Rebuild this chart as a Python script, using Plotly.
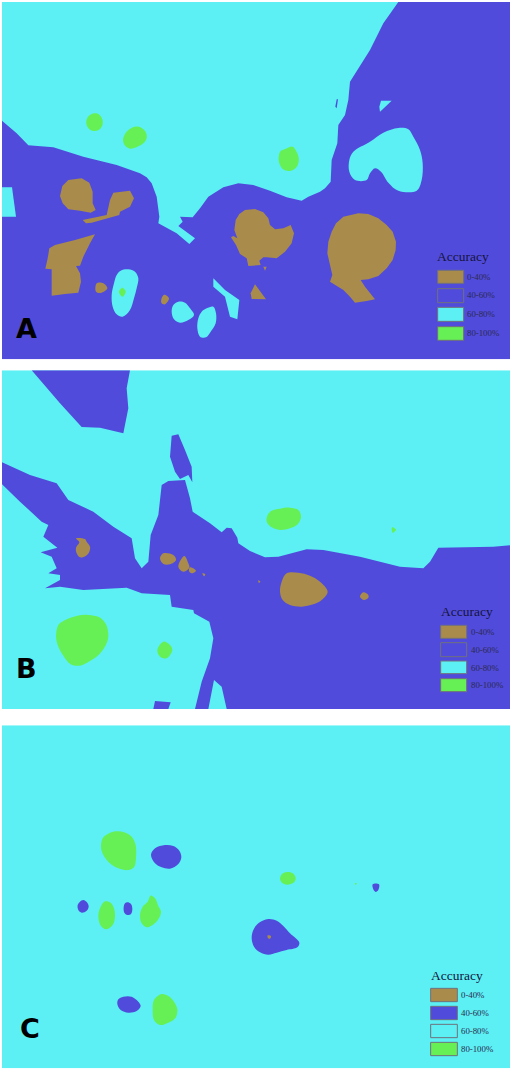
import plotly.graph_objects as go

BROWN = "#a98b4b"
BLUE = "#514bdc"
CYAN = "#5cf0f4"
GREEN = "#66f055"

legend_labels = ["0-40%", "40-60%", "60-80%", "80-100%"]
legend_colors = [BROWN, BLUE, CYAN, GREEN]

# Panel A
a_cyan_sharp = [
    [(6,6),(1195,6),(1150,70),(1110,150),(1050,245),(1045,300),(1035,345),(1015,375),(1012,430),(995,480),
     (992,545),(975,565),(960,575),(925,590),(905,602),(860,592),(810,572),(760,555),(715,550),(670,562),(625,590),
     (600,625),(578,652),(540,650),(548,665),(535,678),(585,715),(568,732),(530,700),(475,670),(478,650),
     (470,590),(455,550),(440,532),(420,520),(350,495),(250,470),(160,442),(85,436),(50,400),(6,362)],
    [(6,562),(36,562),(48,650),(6,650)],
    [(1143,302),(1175,302),(1140,335),(1138,320)],
    [(640,835),(675,870),(718,900),(712,958),(690,950),(675,890),(640,860)],
]
a_cyan_blobs = [
    [(1195,384),(1225,388),(1240,410),(1260,450),(1268,490),(1265,540),(1250,572),(1195,572),(1165,548),
     (1143,515),(1125,505),(1110,520),(1100,540),(1065,540),(1048,515),(1048,480),(1060,455),(1110,425),(1150,398)],
    [(362,812),(385,808),(405,815),(415,835),(410,865),(402,895),(390,930),(368,950),(350,943),(338,920),
     (335,885),(342,850),(350,825)],
    [(535,905),(555,908),(570,925),(582,945),(565,960),(540,968),(522,958),(515,935),(520,915)],
    [(620,925),(640,920),(648,940),(647,970),(632,995),(618,1012),(600,1010),(592,985),(595,955),(605,935)],
]
a_blue_sharp = [[(1010,298),(1014,298),(1010,325),(1006,320)]]
a_brown_sharp = [
    [(340,578),(390,572),(402,595),(390,620),(360,635),(358,645),(275,668),(258,670),(248,660),(320,645),(330,600)],
    [(285,703),(270,730),(250,770),(240,797),(228,798),(240,820),(243,845),(235,878),(195,882),(155,887),(155,840),
     (155,808),(136,806),(143,775),(148,745),(165,735),(225,720)],
    [(765,853),(798,898),(755,897),(752,880)],
    [(735,630),(765,627),(790,637),(805,655),(810,675),(825,688),(850,685),(872,675),(882,700),(875,730),(855,755),
     (830,775),(800,772),(790,772),(778,782),(782,795),(745,798),(740,775),(720,762),(708,735),(693,712),(700,708),
     (712,715),(703,690),(707,660),(718,642)],
    [(1075,640),(1105,642),(1135,655),(1160,675),(1178,695),(1188,725),(1187,750),(1178,780),(1160,805),(1135,828),
     (1105,838),(1082,840),(1095,860),(1125,898),(1100,903),(1065,908),(1050,890),(1030,870),(990,845),(997,825),
     (990,795),(982,760),(985,725),(995,695),(1008,670),(1030,650)],
    [(790,800),(800,800),(795,812)],
    [(205,540),(245,535),(268,548),(278,575),(278,610),(287,630),(272,638),(240,632),(205,628),(188,610),(180,588),(187,558)],
]
a_brown_blobs = [
    [(290,850),(310,850),(322,865),(305,878),(288,875)],
    [(493,884),(507,895),(495,913),(484,908),(486,892)],
]
a_green_blobs = [
    [(283,340),(298,344),(307,358),(308,372),(300,387),(285,393),(270,389),(260,376),(259,362),(266,348)],
    [(405,380),(425,384),(438,398),(440,415),(430,430),(412,440),(392,446),(376,438),(369,420),(375,402),(388,388)],
    [(878,440),(888,452),(895,468),(896,485),(888,503),(868,513),(848,507),(838,490),(836,470),(842,453),(858,446)],
    [(367,863),(377,875),(367,890),(357,875)],
]

# Panel B
b_blue_sharp = [
    [(95,16),(390,16),(380,70),(385,130),(370,205),(300,188),(245,186),(180,115)],
    [(515,212),(535,208),(555,255),(575,305),(577,352),(565,330),(540,342),(525,320),(510,275)],
    [(6,292),(90,330),(170,355),(205,405),(280,440),(340,485),(395,520),(405,580),(425,610),(445,590),(452,510),
     (475,450),(485,360),(505,348),(555,345),(570,400),(578,440),(630,475),(665,502),(680,488),(695,490),(712,518),
     (715,535),(750,558),(795,577),(835,575),(920,553),(970,555),(1080,575),(1200,605),(1270,610),(1290,590),
     (1315,548),(1480,545),(1530,541),(1530,1032),(680,1032),(665,965),(642,945),(625,1032),(585,1032),(605,950),
     (630,880),(640,820),(628,770),(582,745),(580,735),(515,725),(510,690),(425,685),(380,668),(250,675),(180,665),
     (135,670),(180,645),(180,630),(145,625),(170,610),(155,575),(122,562),(172,548),(130,515),(145,480),(125,470),
     (60,410),(6,358)],
    [(465,1008),(512,1012),(505,1032),(460,1032)],
]
b_green_blobs = [
    [(815,437),(840,431),(870,428),(895,435),(903,455),(893,478),(870,490),(840,495),(815,487),(800,470),(803,450)],
    [(1176,487),(1188,494),(1178,503)],
    [(232,752),(265,750),(298,757),(318,778),(325,810),(320,835),(298,868),(270,888),(240,902),(212,898),(190,872),
     (175,845),(168,815),(175,780),(190,768)],
    [(490,830),(510,840),(517,855),(500,880),(480,875),(472,855)],
]
b_brown_blobs = [
    [(228,520),(255,522),(260,530),(270,545),(268,560),(258,572),(240,577),(230,565),(228,548),(238,532)],
    [(490,565),(520,570),(528,585),(510,598),(490,597),(480,580)],
    [(553,573),(565,595),(568,608),(550,620),(535,605)],
    [(570,607),(588,617),(575,625),(567,618)],
    [(607,625),(616,628),(612,634)],
    [(775,646),(781,650),(776,653)],
    [(860,625),(895,623),(930,632),(960,650),(983,680),(965,705),(940,718),(905,725),(870,720),(848,705),(840,680),(845,650)],
    [(1090,682),(1105,690),(1105,698),(1092,705),(1080,695)],
]

# Panel C
c_green_blobs = [
    [(340,335),(372,337),(395,350),(407,375),(408,410),(403,440),(385,450),(355,445),(328,428),(310,405),(303,380),(310,352)],
    [(862,456),(878,460),(887,473),(882,487),(862,494),(848,490),(840,476),(846,462)],
    [(315,544),(332,548),(342,565),(345,590),(338,615),(318,628),(303,618),(295,590),(300,565)],
    [(452,527),(465,535),(475,558),(483,575),(475,598),(458,615),(440,622),(425,610),(420,585),(428,560),(443,545)],
    [(485,822),(505,828),(522,845),(532,868),(527,893),(505,908),(480,915),(462,900),(458,870),(462,840)],
    [(1065,489),(1071,491),(1066,494)],
]
c_blue_blobs = [
    [(495,375),(520,378),(538,392),(544,412),(535,432),(510,446),(485,442),(465,430),(453,405),(465,385)],
    [(1118,493),(1137,493),(1135,510),(1127,516),(1120,508)],
    [(250,540),(262,548),(266,560),(260,572),(245,578),(235,570),(233,555),(240,545)],
    [(382,547),(393,552),(397,567),(393,582),(382,585),(373,578),(371,562),(375,550)],
    [(805,597),(830,602),(850,618),(870,640),(898,668),(892,682),(860,690),(830,698),(805,704),(780,697),(762,680),
     (755,655),(760,630),(775,610)],
    [(370,830),(395,830),(415,845),(422,858),(410,873),(385,878),(362,870),(352,852),(355,838)],
]
c_brown_blobs = [[(803,646),(813,648),(810,656),(804,655)]]

W, H = 512, 1070

panels = [
    dict(name="A", crop_top=0, box=(6, 1530, 6, 1078), bg=BLUE, letter=(78, 985),
         title=(1312, 768), swatch_x=(1313, 1391), swatch_y=[(811, 850), (866, 908), (922, 964), (980, 1021)],
         label_x=1402, label_y=[830, 886, 943, 1000],
         layers=[(CYAN, a_cyan_sharp, False), (CYAN, a_cyan_blobs, True), (BLUE, a_blue_sharp, False),
                 (BROWN, a_brown_sharp, False), (BROWN, a_brown_blobs, True), (GREEN, a_green_blobs, True)]),
    dict(name="B", crop_top=365, box=(6, 1530, 16, 1032), bg=CYAN, letter=(80, 910),
         title=(1322, 738), swatch_x=(1322, 1400), swatch_y=[(781, 820), (833, 875), (888, 926), (941, 980)],
         label_x=1414, label_y=[800, 855, 908, 960],
         layers=[(BLUE, b_blue_sharp, False), (GREEN, b_green_blobs, True), (BROWN, b_brown_blobs, True)]),
    dict(name="C", crop_top=720, box=(6, 1530, 16, 1045), bg=CYAN, letter=(90, 925),
         title=(1292, 765), swatch_x=(1292, 1372), swatch_y=[(805, 845), (859, 899), (913, 953), (967, 1007)],
         label_x=1382, label_y=[824, 878, 932, 986],
         layers=[(GREEN, c_green_blobs, True), (BLUE, c_blue_blobs, True), (BROWN, c_brown_blobs, True)]),
]

fig = go.Figure()
shapes = []
annotations = []

for i, p in enumerate(panels):
    suffix = "" if i == 0 else str(i + 1)
    xref, yref = "x" + suffix, "y" + suffix
    x0, x1, y0, y1 = p["box"]

    # zoom units are 3x, so a panel's pixel box comes straight from its crop
    fig.layout["xaxis" + suffix] = dict(
        domain=[x0 / 3 / W, x1 / 3 / W], range=[x0, x1], visible=False, fixedrange=True)
    fig.layout["yaxis" + suffix] = dict(
        domain=[1 - (p["crop_top"] + y1 / 3) / H, 1 - (p["crop_top"] + y0 / 3) / H],
        range=[y1, y0], visible=False, fixedrange=True)

    shapes.append(dict(type="rect", xref=xref, yref=yref, x0=x0, x1=x1, y0=y0, y1=y1,
                       fillcolor=p["bg"], line_width=0, layer="below"))

    for color, polys, smooth in p["layers"]:
        for poly in polys:
            xs = [pt[0] for pt in poly] + [poly[0][0]]
            ys = [pt[1] for pt in poly] + [poly[0][1]]
            fig.add_trace(go.Scatter(
                x=xs, y=ys, xaxis=xref, yaxis=yref, mode="lines", fill="toself", fillcolor=color,
                # simplify has to stay off or small outlines lose their vertices
                line=dict(width=0, color=color, shape="spline" if smooth else "linear",
                          smoothing=1, simplify=False),
                hoverinfo="skip", showlegend=False))

    annotations.append(dict(x=p["letter"][0], y=p["letter"][1], xref=xref, yref=yref, text=p["name"], showarrow=False,
                            font=dict(family="DejaVu Sans", size=27, color="black", weight="bold")))
    annotations.append(dict(x=p["title"][0], y=p["title"][1], xref=xref, yref=yref, text="Accuracy", showarrow=False,
                            xanchor="left", xshift=-2,
                            font=dict(family="Liberation Serif", size=13.5, color="#14143c")))

    for label, color, (sy0, sy1), ly in zip(legend_labels, legend_colors, p["swatch_y"], p["label_y"]):
        shapes.append(dict(type="rect", xref=xref, yref=yref, x0=p["swatch_x"][0], x1=p["swatch_x"][1], y0=sy0, y1=sy1,
                           fillcolor=color, line=dict(color="#70707c", width=1), layer="above"))
        annotations.append(dict(x=p["label_x"], y=ly, xref=xref, yref=yref, text=label, showarrow=False,
                                xanchor="left", xshift=-2,
                                font=dict(family="Liberation Serif", size=8.8, color="#2a2a50")))

fig.update_layout(
    width=W, height=H,
    margin=dict(l=0, r=0, t=0, b=0),
    paper_bgcolor="white",
    plot_bgcolor="white",
    showlegend=False,
    shapes=shapes,
    annotations=annotations,
)

fig.write_html("out.html", config=dict(displayModeBar=False),
               post_script="document.body.style.margin='0';")
